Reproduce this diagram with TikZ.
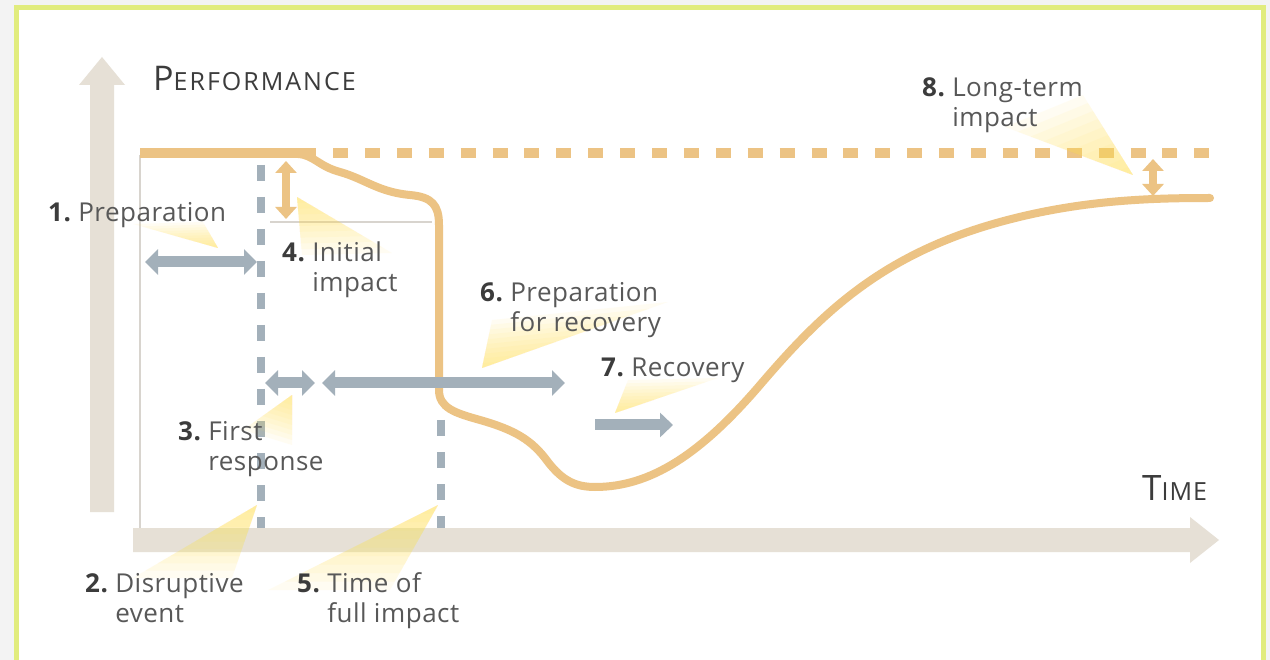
\documentclass[tikz,border=0pt]{standalone}
\usepackage{fontspec}
\setmainfont{Open Sans}
\usetikzlibrary{arrows.meta,calc}
\definecolor{orng}{RGB}{236,195,132}
\definecolor{agray}{RGB}{163,176,186}
\definecolor{axisc}{RGB}{230,224,214}
\definecolor{thinc}{RGB}{216,212,206}
\definecolor{framec}{RGB}{225,236,125}
\definecolor{outerc}{RGB}{243,243,243}
\definecolor{wedgey}{RGB}{255,226,80}
\definecolor{txtc}{RGB}{88,88,88}
\definecolor{numc}{RGB}{60,60,60}
\newcommand\calloutwedge[3]{\foreach \f in {1,0.9,0.8,0.7,0.6,0.5,0.4,0.3,0.2,0.1}{\fill[wedgey,fill opacity=0.07] (#1) -- ($(#1)!\f!(#2)$) -- ($(#1)!\f!(#3)$) -- cycle;}}
\newcommand\lbl[2]{{\bfseries\color{numc}#1}\ \begin{tabular}[t]{@{}l@{}}#2\end{tabular}}
\tikzset{
  garrow/.style={draw=agray,line width=11pt,{Triangle[width=25pt,length=13pt]}-{Triangle[width=25pt,length=13pt]}},
  gsingle/.style={draw=agray,line width=11pt,-{Triangle[width=24pt,length=13pt]}},
  oarrow/.style={draw=orng,line width=8pt,{Triangle[width=21pt,length=12pt]}-{Triangle[width=21pt,length=12pt]}},
  gdash/.style={draw=agray,line width=8pt,dash pattern=on 16pt off 16pt},
  thinline/.style={draw=thinc,line width=1.5pt},
  lab/.style={anchor=base west,inner sep=0pt,text=txtc,font=\fontsize{26}{30}\selectfont\addfontfeatures{LetterSpace=2}},
}
\begin{document}
\begin{tikzpicture}[x=1pt,y=-1pt]
\useasboundingbox (0,0) rectangle (1270,660);
\fill[outerc] (0,0) rectangle (1270,660);
\draw[framec,line width=5pt,fill=white] (16,8) rectangle (1263,720);
% thin baseline lines
\draw[thinline] (140,155) -- (140,528);
\draw[thinline] (270,222) -- (432,222);
% axes
\fill[axisc] (90,512) -- (90,85) -- (79,85) -- (102,57) -- (125,85) -- (114,85) -- (114,512) -- cycle;
\fill[axisc] (133,528) -- (1190,528) -- (1190,517) -- (1219,540) -- (1190,563) -- (1190,552) -- (133,552) -- cycle;
% performance level
\draw[orng,line width=10pt] (140,153) -- (316,153);
\draw[orng,line width=10pt,dash pattern=on 15pt off 16.9pt] (333,153) -- (1210,153);
\draw[orng,line width=8pt,line cap=round] (298,154) .. controls (314,155) and (318,166) .. (340,172)
  .. controls (365,179) and (378,192) .. (410,195)
  .. controls (432,197) and (439,205) .. (439,225)
  -- (439,390)
  .. controls (439,408) and (455,413) .. (480,420)
  .. controls (515,430) and (532,440) .. (548,462)
  .. controls (562,480) and (575,487) .. (595,487)
  .. controls (650,487) and (700,455) .. (760,385)
  .. controls (820,315) and (880,255) .. (1000,222)
  .. controls (1080,200) and (1150,198) .. (1210,198);
% dashed event lines
\draw[gdash] (261,165) -- (261,528);
\draw[gdash] (441,420) -- (441,528);
% arrows
\coordinate (pa1) at (145,262); \coordinate (pa2) at (257,262);
\coordinate (fr1) at (265,383); \coordinate (fr2) at (315,383);
\coordinate (pr1) at (322,383); \coordinate (pr2) at (565,383);
\coordinate (rc1) at (595,425); \coordinate (rc2) at (673,425);
\coordinate (ii1) at (286,161); \coordinate (ii2) at (286,219);
\coordinate (lt1) at (1153,159); \coordinate (lt2) at (1153,196);
\draw[garrow] (pa1) -- (pa2);
\draw[garrow] (fr1) -- (fr2);
\draw[garrow] (pr1) -- (pr2);
\draw[gsingle] (rc1) -- (rc2);
\draw[oarrow] (ii1) -- (ii2);
\draw[oarrow] (lt1) -- (lt2);
% callout wedges
\coordinate (w1t) at (218,248); \coordinate (w1a) at (133,224); \coordinate (w1b) at (203,222);
\coordinate (w2t) at (257,505); \coordinate (w2a) at (133,578); \coordinate (w2b) at (232,578);
\coordinate (w3t) at (292,395); \coordinate (w3a) at (243,430); \coordinate (w3b) at (292,445);
\coordinate (w4t) at (297,197); \coordinate (w4a) at (302,255); \coordinate (w4b) at (392,253);
\coordinate (w5t) at (438,505); \coordinate (w5a) at (268,590); \coordinate (w5b) at (390,590);
\coordinate (w6t) at (482,368); \coordinate (w6a) at (492,320); \coordinate (w6b) at (668,302);
\coordinate (w7t) at (615,413); \coordinate (w7a) at (628,380); \coordinate (w7b) at (718,378);
\coordinate (w8t) at (1133,175); \coordinate (w8a) at (1005,127); \coordinate (w8b) at (1083,95);
\calloutwedge{w1t}{w1a}{w1b}
\calloutwedge{w2t}{w2a}{w2b}
\calloutwedge{w3t}{w3a}{w3b}
\calloutwedge{w4t}{w4a}{w4b}
\calloutwedge{w5t}{w5a}{w5b}
\calloutwedge{w6t}{w6a}{w6b}
\calloutwedge{w7t}{w7a}{w7b}
\calloutwedge{w8t}{w8a}{w8b}
% axis titles
\node[lab,text=numc,font=\fontsize{25}{30}\selectfont] (perf) at (153,91) {{\fontsize{34}{34}\selectfont P}{\addfontfeatures{LetterSpace=8}ERFORMANCE}};
\node[lab,text=numc,font=\fontsize{25}{30}\selectfont\addfontfeatures{LetterSpace=4}] (time) at (1142,500) {{\fontsize{35}{35}\selectfont T}IME};
% labels
\node[lab] (l1) at (48,222) {\lbl{1.}{Preparation}};
\node[lab] (l2) at (85,592) {\lbl{2.}{Disruptive\\event}};
\node[lab] (l3) at (178,440) {\lbl{3.}{First\\response}};
\node[lab] (l4) at (282,262) {\lbl{4.}{Initial\\impact}};
\node[lab] (l5) at (297,592) {\lbl{5.}{Time of\\full impact}};
\node[lab] (l6) at (480,302) {\lbl{6.}{Preparation\\for recovery}};
\node[lab] (l7) at (601,377) {\lbl{7.}{Recovery}};
\node[lab] (l8) at (922,97) {\lbl{8.}{Long-term\\impact}};
\end{tikzpicture}
\end{document}
